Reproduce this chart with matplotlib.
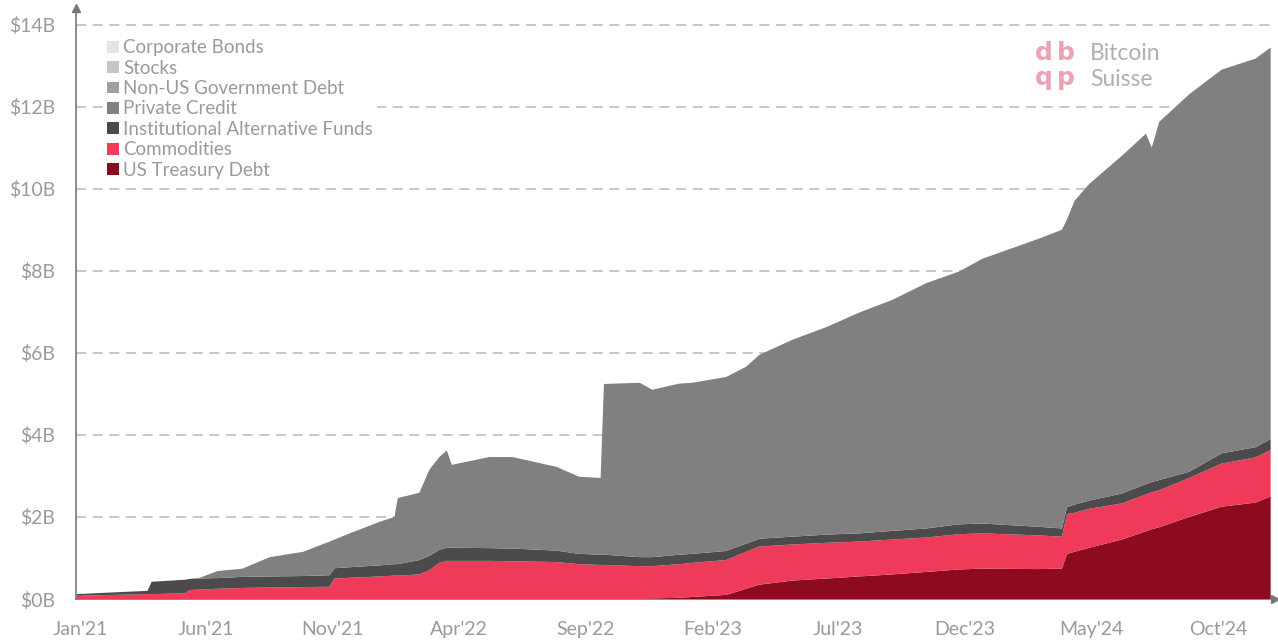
import numpy as np
import pandas as pd
import matplotlib
matplotlib.use("Agg")
import matplotlib.pyplot as plt
from matplotlib.patches import Patch

plt.rcParams['font.family'] = ['Lato', 'DejaVu Sans']

dates = pd.to_datetime([
    "2020-12-28", "2021-03-23", "2021-03-28", "2021-05-07", "2021-05-13", "2021-05-25",
    "2021-06-15", "2021-07-15", "2021-08-17", "2021-09-26", "2021-10-28", "2021-11-03",
    "2021-11-25", "2021-12-27", "2022-01-14", "2022-01-18", "2022-02-13", "2022-02-25",
    "2022-03-09", "2022-03-18", "2022-03-24", "2022-05-08", "2022-06-05", "2022-07-28",
    "2022-08-24", "2022-09-19", "2022-09-23", "2022-11-05", "2022-11-20", "2022-12-23",
    "2023-01-07", "2023-02-17", "2023-03-13", "2023-03-29", "2023-05-08", "2023-06-18",
    "2023-07-27", "2023-09-05", "2023-10-16", "2023-11-24", "2023-12-22", "2024-02-28",
    "2024-03-27", "2024-04-02", "2024-04-11", "2024-04-29", "2024-06-07", "2024-07-06",
    "2024-07-13", "2024-07-22", "2024-08-27", "2024-10-05", "2024-11-15", "2024-12-03",
])

# values in $B
us_treasury = [
    0, 0, 0, 0, 0, 0, 0, 0, 0, 0, 0, 0,
    0, 0, 0, 0, 0, 0, 0, 0, 0, 0, 0, 0,
    0, 0, 0, 0, 0.01, 0.03, 0.05, 0.10, 0.25, 0.35, 0.45, 0.50,
    0.55, 0.60, 0.66, 0.72, 0.74, 0.73, 0.74, 1.10, 1.15, 1.25, 1.45, 1.65,
    1.70, 1.75, 2.00, 2.25, 2.35, 2.50,
]
commodities = [
    0.08, 0.12, 0.12, 0.14, 0.22, 0.23, 0.25, 0.27, 0.28, 0.29, 0.30, 0.50,
    0.52, 0.55, 0.57, 0.57, 0.60, 0.70, 0.88, 0.93, 0.93, 0.93, 0.92, 0.90,
    0.85, 0.83, 0.83, 0.80, 0.79, 0.82, 0.83, 0.85, 0.90, 0.93, 0.88, 0.87,
    0.85, 0.85, 0.84, 0.86, 0.86, 0.82, 0.78, 0.97, 0.95, 0.95, 0.88, 0.90,
    0.90, 0.90, 0.95, 1.05, 1.10, 1.13,
]
inst_alt_funds = [
    0.04, 0.08, 0.30, 0.33, 0.27, 0.27, 0.26, 0.27, 0.27, 0.27, 0.28, 0.25,
    0.26, 0.27, 0.28, 0.28, 0.35, 0.35, 0.32, 0.32, 0.32, 0.31, 0.31, 0.28,
    0.25, 0.25, 0.25, 0.22, 0.22, 0.23, 0.22, 0.22, 0.20, 0.19, 0.19, 0.20,
    0.20, 0.21, 0.22, 0.24, 0.24, 0.21, 0.20, 0.17, 0.20, 0.20, 0.24, 0.25,
    0.25, 0.25, 0.15, 0.25, 0.25, 0.27,
]
private_credit = [
    0, 0, 0, 0, 0, 0.02, 0.17, 0.20, 0.47, 0.59, 0.82, 0.70,
    0.85, 1.06, 1.15, 1.61, 1.64, 2.10, 2.26, 2.37, 2.02, 2.22, 2.23, 2.04,
    1.88, 1.87, 4.16, 4.25, 4.08, 4.17, 4.17, 4.24, 4.31, 4.48, 4.80, 5.06,
    5.38, 5.63, 5.98, 6.16, 6.45, 7.02, 7.28, 7.01, 7.40, 7.72, 8.23, 8.54,
    8.15, 8.73, 9.20, 9.35, 9.47, 9.54,
]
n = len(dates)
non_us_gov_debt = [0] * n
stocks = [0] * n
corporate_bonds = [0] * n

series = [us_treasury, commodities, inst_alt_funds, private_credit,
          non_us_gov_debt, stocks, corporate_bonds]
labels = ["US Treasury Debt", "Commodities", "Institutional Alternative Funds",
          "Private Credit", "Non-US Government Debt", "Stocks", "Corporate Bonds"]
colors = ["#8c0b1e", "#f03a5a", "#4b4b4b", "#808080", "#a0a0a0", "#c6c6c6", "#e4e4e4"]

tick_dates = pd.to_datetime(["2021-01-01", "2021-06-01", "2021-11-01", "2022-04-01",
                             "2022-09-01", "2023-02-01", "2023-07-01", "2023-12-01",
                             "2024-05-01", "2024-10-01"])
tick_labels = ["Jan'21", "Jun'21", "Nov'21", "Apr'22", "Sep'22", "Feb'23",
               "Jul'23", "Dec'23", "May'24", "Oct'24"]
y_ticks = [0, 2, 4, 6, 8, 10, 12, 14]

txt = "#9a9a9a"
fig = plt.figure(figsize=(12.78, 6.43), dpi=100)
ax = fig.add_axes([0.0595, 0.0684, 0.938, 0.919])

ax.stackplot(dates, *series, colors=colors, linewidth=0, zorder=3)

ax.set_xlim(pd.Timestamp("2020-12-27"), pd.Timestamp("2024-12-08"))
ax.set_ylim(0, 14.4)
ax.set_yticks(y_ticks)
ax.set_yticklabels([f"${v}B" for v in y_ticks])
ax.set_xticks(tick_dates)
ax.set_xticklabels(tick_labels)
ax.tick_params(axis='y', length=0, pad=15, labelsize=14, labelcolor=txt)
ax.tick_params(axis='x', direction='in', length=5, color='#dddddd', pad=16,
               labelsize=14, labelcolor=txt)
ax.grid(axis='y', linestyle=(0, (6, 4)), color='#bdbdbd', linewidth=1.2, zorder=1)

for s in ['top', 'right']:
    ax.spines[s].set_visible(False)
for s in ['left', 'bottom']:
    ax.spines[s].set_color('#777777')
    ax.spines[s].set_linewidth(1.2)
ax.plot([0], [1], marker='^', color='#777777', markersize=6,
        transform=ax.transAxes, clip_on=False)
ax.plot([1], [0], marker='>', color='#777777', markersize=6,
        transform=ax.transAxes, clip_on=False)

handles = [Patch(facecolor=c, edgecolor='none') for c in colors][::-1]
leg = ax.legend(handles, labels[::-1], loc='upper left', bbox_to_anchor=(0.023, 0.9535),
                frameon=True, facecolor='white', edgecolor='none', framealpha=1,
                fancybox=False, borderpad=0.2, fontsize=13.5,
                handlelength=0.6, handleheight=0.6,
                handletextpad=0.25, labelspacing=0.18, borderaxespad=0)
leg.set_zorder(5)
for t in leg.get_texts():
    t.set_color(txt)

# logo
for ch, x, y in [("d", 1035, 53), ("b", 1057, 53), ("q", 1035, 78), ("p", 1057, 78)]:
    fig.text(x / 1278, 1 - y / 643, ch, color="#eba2b2", fontsize=18,
             fontweight='bold', va='center', ha='left', family='DejaVu Sans')
fig.text(1090 / 1278, 1 - 54 / 643, "Bitcoin", color="#b0b0b0", fontsize=16.5,
         va='center', ha='left')
fig.text(1090 / 1278, 1 - 79 / 643, "Suisse", color="#b0b0b0", fontsize=16.5,
         va='center', ha='left')

fig.savefig("out.png", dpi=100)
